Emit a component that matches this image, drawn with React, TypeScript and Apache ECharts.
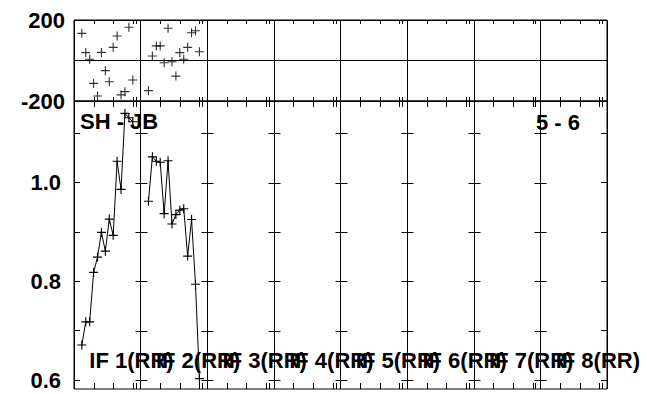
import React, { useEffect, useRef } from 'react';
import * as echarts from 'echarts';

// ---- data ----
const IF_LABELS = ['IF 1(RR)', 'IF 2(RR)', 'IF 3(RR)', 'IF 4(RR)', 'IF 5(RR)', 'IF 6(RR)', 'IF 7(RR)', 'IF 8(RR)'];
const SECTION_WIDTH = 34; // channel units per IF panel
const CHANNELS = [4, 6, 8, 10, 12, 14, 16, 18, 20, 22, 24, 26, 28, 30];
const AMP_IF1 = [0.671, 0.718, 0.718, 0.818, 0.849, 0.899, 0.861, 0.926, 0.893, 1.043, 0.986, 1.14, 1.131, 1.123];
const AMP_IF2 = [0.962, 1.052, 1.043, 1.041, 0.937, 1.044, 0.916, 0.935, 0.944, 0.947, 0.851, 0.925, 0.794, 0.603];
const PHASE_IF1 = [134, 39, 6, -113, -175, 40, -50, -105, 65, 121, -170, -154, 164, -96];
const PHASE_IF2 = [-149, 22, 72, 72, -11, 159, -6, -77, 39, 6, 65, 137, 147, 43];
const TICK_CHANNELS = [10, 20, 30, 31.5];
const AMP_TICKS = [0.6, 0.7, 0.8, 0.9, 1.0, 1.1];
const AMP_LABELS = [0.6, 0.8, 1.0];
const AMP_RANGE = [0.582, 1.165];
const PHASE_RANGE = [-200, 200];
const BASELINE_LABEL = 'SH - JB';
const STOKES_LABEL = '5 - 6';

const FONT = '"Liberation Sans", Arial, Helvetica, sans-serif';
const PLUS = 'path://M3.5,0H4.5V8H3.5ZM0,3.5H8V4.5H0Z';

export default function App() {
  const ref = useRef<HTMLDivElement>(null);
  useEffect(() => {
    if (!ref.current) return;
    const chart = echarts.init(ref.current, undefined, { renderer: 'svg' });
    const nIF = IF_LABELS.length;
    const xMax = nIF * SECTION_WIDTH;

    const chTickData: number[][] = [];
    for (let k = 0; k < nIF; k++) for (const t of TICK_CHANNELS) chTickData.push([k * SECTION_WIDTH + t, 0]);
    const crossData: number[][] = [];
    for (let k = 1; k < nIF; k++) for (const y of AMP_TICKS) crossData.push([k * SECTION_WIDTH, y]);
    const labelData = IF_LABELS.map((_, k) => [k * SECTION_WIDTH + 7.8, 0.64, k]);

    const crisp = (v: number) => Math.round(v) + 0.5;
    const chTicks = (len: number) => (params: any, api: any) => {
      const cs = params.coordSys;
      const x = crisp(api.coord([api.value(0), AMP_RANGE[0]])[0]);
      return {
        type: 'group',
        children: [
          { type: 'line', shape: { x1: x, y1: cs.y, x2: x, y2: cs.y + len }, style: { stroke: '#000', lineWidth: 1 } },
          { type: 'line', shape: { x1: x, y1: cs.y + cs.height, x2: x, y2: cs.y + cs.height - len }, style: { stroke: '#000', lineWidth: 1 } },
        ],
      };
    };

    const axisFont = { fontFamily: FONT, fontWeight: 'bold' as const, fontSize: 22, color: '#000' };

    const option: any = {
      animation: false,
      backgroundColor: '#fff',
      grid: [
        { left: 74, top: 20, width: 533, height: 81, show: true, borderColor: '#000', borderWidth: 1, backgroundColor: 'transparent' },
        { left: 74, top: 101, width: 533, height: 288, show: true, borderColor: '#000', borderWidth: 1, backgroundColor: 'transparent' },
      ],
      xAxis: [0, 1].map((g) => ({
        gridIndex: g, type: 'value', min: 0, max: xMax, interval: SECTION_WIDTH,
        axisLine: { show: false }, axisTick: { show: false }, axisLabel: { show: false },
        splitLine: { show: true, lineStyle: { color: '#000', width: 1 } },
      })),
      yAxis: [
        {
          gridIndex: 0, type: 'value', min: PHASE_RANGE[0], max: PHASE_RANGE[1], interval: 200,
          axisLine: { show: false }, axisTick: { show: false },
          axisLabel: { ...axisFont, margin: 9, padding: [5, 0, 0, 0], formatter: (v: number) => (v === 0 ? '' : String(v)) },
          splitLine: { show: true, lineStyle: { color: '#000', width: 1 } },
        },
        {
          gridIndex: 1, type: 'value', min: AMP_RANGE[0], max: AMP_RANGE[1],
          axisLine: { show: false },
          axisTick: { show: true, inside: true, length: 6, customValues: AMP_TICKS, lineStyle: { color: '#000', width: 1 } },
          axisLabel: { ...axisFont, margin: 13, padding: [5, 0, 0, 0], customValues: AMP_LABELS, formatter: (v: number) => v.toFixed(1) },
          splitLine: { show: false },
        },
        {
          gridIndex: 1, type: 'value', position: 'right', min: AMP_RANGE[0], max: AMP_RANGE[1],
          axisLine: { show: false },
          axisTick: { show: true, inside: true, length: 6, customValues: AMP_TICKS, lineStyle: { color: '#000', width: 1 } },
          axisLabel: { show: false },
          splitLine: { show: false },
        },
      ],
      graphic: [
        { type: 'text', x: 80, y: 121, style: { text: BASELINE_LABEL, font: `bold 22px ${FONT}`, fill: '#000', verticalAlign: 'middle', textVerticalAlign: 'middle' } },
        { type: 'text', x: 580, y: 122, style: { text: STOKES_LABEL, font: `bold 22px ${FONT}`, fill: '#000', align: 'right', textAlign: 'right', verticalAlign: 'middle', textVerticalAlign: 'middle' } },
      ],
      series: [
        ...[PHASE_IF1, PHASE_IF2].map((vals, k) => ({
          type: 'scatter', xAxisIndex: 0, yAxisIndex: 0, silent: true,
          data: vals.map((v, i) => [k * SECTION_WIDTH + CHANNELS[i], v]),
          symbol: PLUS, symbolSize: 9, itemStyle: { color: '#000' },
        })),
        ...[AMP_IF1, AMP_IF2].map((vals, k) => ({
          type: 'line', xAxisIndex: 1, yAxisIndex: 1, silent: true, clip: true,
          data: vals.map((v, i) => [k * SECTION_WIDTH + CHANNELS[i], v]),
          symbol: PLUS, symbolSize: 9, showAllSymbol: true,
          lineStyle: { color: '#000', width: 1 }, itemStyle: { color: '#000' },
        })),
        {
          type: 'custom', xAxisIndex: 0, yAxisIndex: 0, silent: true,
          data: chTickData, renderItem: chTicks(4),
        },
        {
          type: 'custom', xAxisIndex: 1, yAxisIndex: 1, silent: true,
          data: chTickData, renderItem: chTicks(6),
        },
        {
          type: 'custom', xAxisIndex: 1, yAxisIndex: 1, silent: true, data: crossData,
          renderItem: (params: any, api: any) => {
            const p = api.coord([api.value(0), api.value(1)]);
            const x = crisp(p[0]);
            const y = crisp(p[1]);
            return { type: 'line', shape: { x1: x - 6, y1: y, x2: x + 6, y2: y }, style: { stroke: '#000', lineWidth: 1 } };
          },
        },
        {
          type: 'custom', xAxisIndex: 1, yAxisIndex: 1, silent: true, data: labelData,
          renderItem: (params: any, api: any) => {
            const p = api.coord([api.value(0), api.value(1)]);
            return {
              type: 'text', x: p[0], y: p[1],
              style: { text: IF_LABELS[api.value(2)], font: `bold 22px ${FONT}`, fill: '#000', verticalAlign: 'middle', textVerticalAlign: 'middle' },
            };
          },
        },
      ],
    };
    chart.setOption(option);
    return () => chart.dispose();
  }, []);
  return <div ref={ref} style={{ position: 'fixed', left: 0, top: 0, width: 647, height: 394 }} />;
}
